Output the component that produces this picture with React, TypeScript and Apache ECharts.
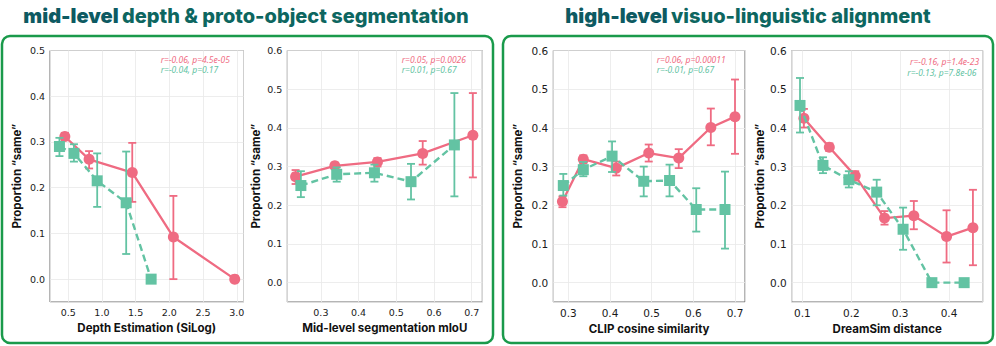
import React, { useEffect, useRef } from 'react';
import * as echarts from 'echarts';

const PINK = '#EF6B82';
const GREEN = '#63C3A3';

// Panel 1: depth estimation
const depthPinkX = [0.45, 0.81, 1.45, 2.06, 2.97];
const depthPinkY = [0.312, 0.262, 0.233, 0.092, 0.0];
const depthPinkLo = [0.304, 0.242, 0.169, 0.0, 0.0];
const depthPinkHi = [0.32, 0.28, 0.298, 0.182, 0.0];
const depthGreenX = [0.37, 0.585, 0.93, 1.36, 1.73];
const depthGreenY = [0.29, 0.275, 0.215, 0.167, 0.0];
const depthGreenLo = [0.269, 0.257, 0.158, 0.055, 0.0];
const depthGreenHi = [0.309, 0.295, 0.275, 0.279, 0.0];

// Panel 2: mid-level segmentation
const segPinkX = [0.233, 0.337, 0.45, 0.57, 0.703];
const segPinkY = [0.274, 0.302, 0.312, 0.334, 0.381];
const segPinkLo = [0.255, 0.294, 0.3, 0.305, 0.272];
const segPinkHi = [0.291, 0.31, 0.322, 0.366, 0.49];
const segGreenX = [0.247, 0.342, 0.442, 0.539, 0.654];
const segGreenY = [0.251, 0.28, 0.284, 0.261, 0.356];
const segGreenLo = [0.221, 0.261, 0.261, 0.215, 0.223];
const segGreenHi = [0.288, 0.298, 0.305, 0.307, 0.49];

// Panel 3: CLIP cosine similarity
const clipPinkX = [0.286, 0.336, 0.415, 0.493, 0.565, 0.642, 0.7];
const clipPinkY = [0.21, 0.319, 0.296, 0.335, 0.322, 0.401, 0.429];
const clipPinkLo = [0.195, 0.309, 0.277, 0.313, 0.296, 0.355, 0.333];
const clipPinkHi = [0.223, 0.329, 0.313, 0.357, 0.345, 0.45, 0.525];
const clipGreenX = [0.288, 0.336, 0.405, 0.481, 0.543, 0.607, 0.676];
const clipGreenY = [0.251, 0.292, 0.327, 0.262, 0.264, 0.189, 0.189];
const clipGreenLo = [0.225, 0.275, 0.286, 0.223, 0.223, 0.132, 0.088];
const clipGreenHi = [0.281, 0.312, 0.365, 0.3, 0.305, 0.244, 0.287];

// Panel 4: DreamSim distance
const dreamPinkX = [0.103, 0.155, 0.208, 0.268, 0.328, 0.395, 0.449];
const dreamPinkY = [0.425, 0.35, 0.276, 0.167, 0.173, 0.119, 0.142];
const dreamPinkLo = [0.401, 0.34, 0.264, 0.15, 0.138, 0.052, 0.045];
const dreamPinkHi = [0.449, 0.36, 0.288, 0.185, 0.211, 0.187, 0.24];
const dreamGreenX = [0.095, 0.142, 0.195, 0.252, 0.306, 0.365, 0.431];
const dreamGreenY = [0.458, 0.303, 0.266, 0.234, 0.138, 0.0, 0.0];
const dreamGreenLo = [0.388, 0.283, 0.246, 0.2, 0.085, 0.0, 0.0];
const dreamGreenHi = [0.529, 0.324, 0.288, 0.266, 0.194, 0.0, 0.0];

const xAxisNames = ['Depth Estimation (SiLog)', 'Mid-level segmentation mIoU', 'CLIP cosine similarity', 'DreamSim distance'];
const yAxisName = 'Proportion \u201csame\u201d';
const xRanges = [[0.23, 3.1], [0.211, 0.728], [0.264, 0.724], [0.078, 0.469]];
const yRanges = [[-0.05, 0.5], [-0.05, 0.6], [-0.05, 0.6], [-0.05, 0.6]];
const xSteps = [0.5, 0.1, 0.1, 0.1];
const pinkStats = ['r=-0.06, p=4.5e-05', 'r=0.05, p=0.0026', 'r=0.06, p=0.00011', 'r=-0.16, p=1.4e-23'];
const greenStats = ['r=-0.04, p=0.17', 'r=0.01, p=0.67', 'r=-0.01, p=0.67', 'r=-0.13, p=7.8e-06'];
const groupTitles = ['depth & proto-object segmentation', 'visuo-linguistic alignment'];
const groupPrefixes = ['mid-level', 'high-level'];

const panels = [
  { px: depthPinkX, py: depthPinkY, plo: depthPinkLo, phi: depthPinkHi, gx: depthGreenX, gy: depthGreenY, glo: depthGreenLo, ghi: depthGreenHi },
  { px: segPinkX, py: segPinkY, plo: segPinkLo, phi: segPinkHi, gx: segGreenX, gy: segGreenY, glo: segGreenLo, ghi: segGreenHi },
  { px: clipPinkX, py: clipPinkY, plo: clipPinkLo, phi: clipPinkHi, gx: clipGreenX, gy: clipGreenY, glo: clipGreenLo, ghi: clipGreenHi },
  { px: dreamPinkX, py: dreamPinkY, plo: dreamPinkLo, phi: dreamPinkHi, gx: dreamGreenX, gy: dreamGreenY, glo: dreamGreenLo, ghi: dreamGreenHi },
];

// layout
const gridLefts = [50, 287.3, 553.3, 791.7];
const gridWidths = [193.5, 195, 191.7, 191];
const gridTop = 50.5;
const gridHeight = 251.5;
const tickFont = [9.5, 9.5, 10.5, 10.5];
const yNameGaps = [27, 25, 29, 26];
const statX = [[160.7, 160.7], [401.7, 401.7], [656.7, 656.7], [910, 907.3]];
const statY = [[59, 69.5], [59, 69.5], [59, 69.5], [61.5, 72.5]];

function errorBarSeries(i: number, xs: number[], lo: number[], hi: number[], color: string, z: number) {
  return {
    type: 'custom',
    xAxisIndex: i,
    yAxisIndex: i,
    z,
    clip: false,
    data: xs.map((x, k) => [x, lo[k], hi[k]]),
    encode: { x: 0, y: [1, 2] },
    renderItem: (params: any, api: any) => {
      const x = api.value(0);
      const p1 = api.coord([x, api.value(1)]);
      const p2 = api.coord([x, api.value(2)]);
      const w = 4;
      const style = { stroke: color, lineWidth: 1.8 };
      return {
        type: 'group',
        children: [
          { type: 'line', shape: { x1: p1[0], y1: p1[1], x2: p2[0], y2: p2[1] }, style },
          { type: 'line', shape: { x1: p1[0] - w, y1: p1[1], x2: p1[0] + w, y2: p1[1] }, style },
          { type: 'line', shape: { x1: p2[0] - w, y1: p2[1], x2: p2[0] + w, y2: p2[1] }, style },
        ],
      };
    },
  };
}

function fmt(step: number) {
  return (v: number) => {
    const r = v / step;
    if (Math.abs(r - Math.round(r)) > 1e-6) return '';
    return v.toFixed(1);
  };
}

export default function App() {
  const ref = useRef<HTMLDivElement>(null);
  useEffect(() => {
    if (!ref.current) return;
    const chart = echarts.init(ref.current, undefined, { renderer: 'svg' });
    const grid: any[] = [];
    const xAxis: any[] = [];
    const yAxis: any[] = [];
    const series: any[] = [];
    const graphic: any[] = [];

    panels.forEach((p, i) => {
      grid.push({
        left: gridLefts[i], top: gridTop, width: gridWidths[i], height: gridHeight,
        show: true, borderColor: '#6b6b6b', borderWidth: 1, backgroundColor: 'transparent',
      });
      xAxis.push({
        type: 'value', gridIndex: i, min: xRanges[i][0], max: xRanges[i][1],
        name: xAxisNames[i], nameLocation: 'middle', nameGap: 20,
        nameTextStyle: { fontFamily: 'Inter', fontWeight: 700, fontSize: 11.5, color: '#111' },
        axisLine: { show: false }, axisTick: { show: false },
        axisLabel: { formatter: fmt(xSteps[i]), fontFamily: 'DejaVu Sans', fontSize: tickFont[i], color: '#1a1a1a', margin: 5, showMinLabel: false, showMaxLabel: false },
        splitLine: { show: true, lineStyle: { color: '#e8e8e8', width: 0.8 } },
      });
      yAxis.push({
        type: 'value', gridIndex: i, min: yRanges[i][0], max: yRanges[i][1],
        name: yAxisName, nameLocation: 'middle', nameGap: yNameGaps[i],
        nameTextStyle: { fontFamily: 'Inter', fontWeight: 700, fontSize: 11.5, color: '#111' },
        axisLine: { show: false }, axisTick: { show: false },
        axisLabel: { formatter: fmt(0.1), fontFamily: 'DejaVu Sans', fontSize: tickFont[i], color: '#1a1a1a', margin: 5, showMinLabel: false },
        splitLine: { show: true, lineStyle: { color: '#e8e8e8', width: 0.8 } },
      });
      series.push(errorBarSeries(i, p.px, p.plo, p.phi, PINK, 2));
      series.push({
        type: 'line', xAxisIndex: i, yAxisIndex: i, z: 3,
        data: p.px.map((x, k) => [x, p.py[k]]),
        symbol: 'circle', symbolSize: 11,
        itemStyle: { color: PINK },
        lineStyle: { color: PINK, width: 2.3 },
      });
      series.push(errorBarSeries(i, p.gx, p.glo, p.ghi, GREEN, 4));
      series.push({
        type: 'line', xAxisIndex: i, yAxisIndex: i, z: 5,
        data: p.gx.map((x, k) => [x, p.gy[k]]),
        symbol: 'rect', symbolSize: 11,
        itemStyle: { color: GREEN },
        lineStyle: { color: GREEN, width: 2.4, type: [7, 4] },
      });
      graphic.push({
        type: 'text', x: statX[i][0], y: statY[i][0],
        style: { text: pinkStats[i], fill: PINK, fontSize: 8.5, fontStyle: 'italic', fontFamily: 'Noto Sans', verticalAlign: 'middle', align: 'left' },
        z: 10,
      });
      graphic.push({
        type: 'text', x: statX[i][1], y: statY[i][1],
        style: { text: greenStats[i], fill: GREEN, fontSize: 8.5, fontStyle: 'italic', fontFamily: 'Noto Sans', verticalAlign: 'middle', align: 'left' },
        z: 10,
      });
    });

    // group boxes
    graphic.push({ type: 'rect', shape: { x: 2, y: 36, width: 491, height: 307, r: 8 }, style: { fill: 'none', stroke: '#1a9a4b', lineWidth: 2.5 }, z: 1 });
    graphic.push({ type: 'rect', shape: { x: 503, y: 36, width: 490, height: 307, r: 8 }, style: { fill: 'none', stroke: '#1a9a4b', lineWidth: 2.5 }, z: 1 });
    // group titles
    const titleCenters = [246, 748];
    groupTitles.forEach((t, k) => {
      graphic.push({
        type: 'text', x: titleCenters[k], y: 16,
        style: {
          text: `{a|${groupPrefixes[k]}} {b|${t}}`,
          align: 'center', verticalAlign: 'middle',
          rich: {
            a: { fontFamily: 'Inter', fontWeight: 900, fontSize: 20, fill: '#0d5a62', letterSpacing: -0.8 },
            b: { fontFamily: 'Inter', fontWeight: 800, fontSize: 20, fill: '#0d6660', letterSpacing: -0.5 },
          },
        },
        z: 10,
      });
    });

    chart.setOption({ animation: false, grid, xAxis, yAxis, series, graphic });
    return () => chart.dispose();
  }, []);
  return <div ref={ref} style={{ position: 'fixed', left: 0, top: 0, width: 996, height: 346, background: '#fff' }} />;
}
